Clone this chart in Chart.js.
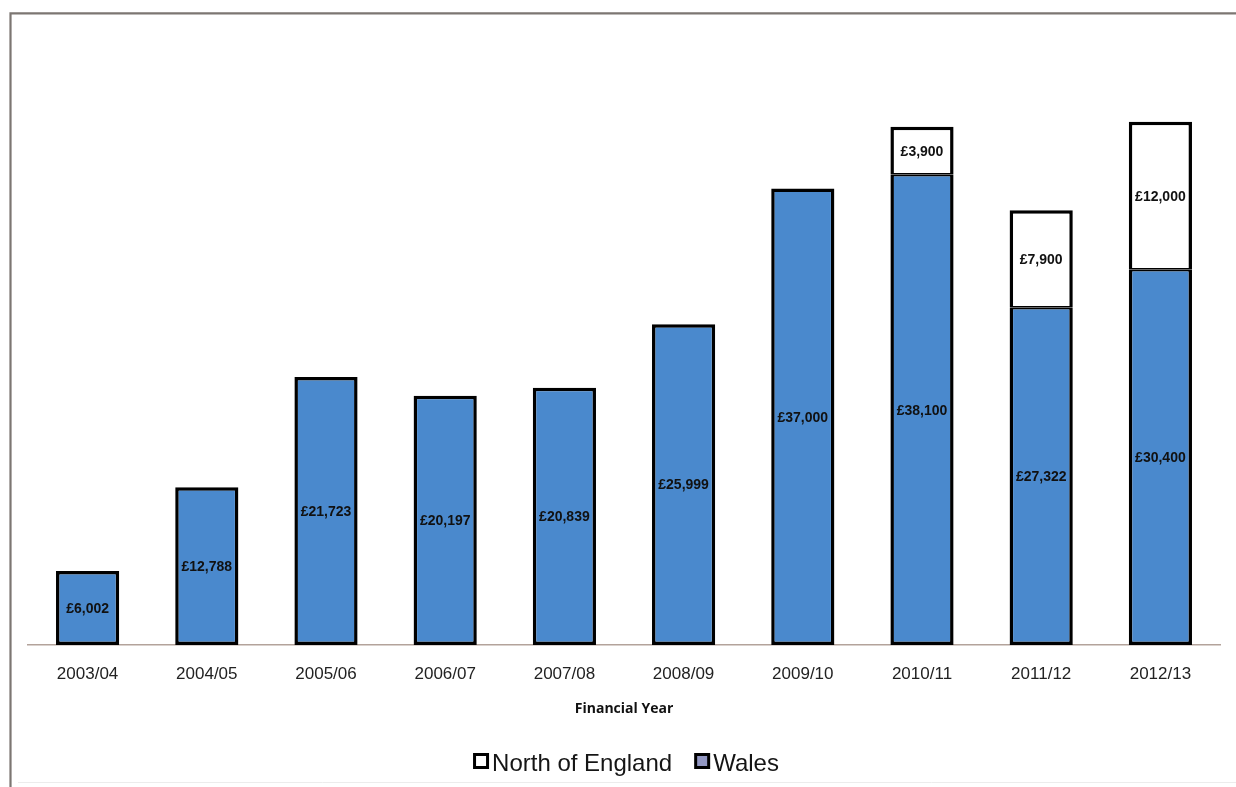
<!DOCTYPE html>
<html>
<head>
<meta charset="utf-8">
<script src="https://cdn.jsdelivr.net/npm/chart.js@4/dist/chart.umd.min.js"></script>
<style>
  html, body { margin: 0; padding: 0; background: #ffffff; }
  #wrap { position: relative; width: 1236px; height: 787px; }
  canvas { display: block; }
</style>
</head>
<body>
<div id="wrap"><canvas id="c" width="1236" height="787"></canvas></div>
<script>
const categories = ["2003/04","2004/05","2005/06","2006/07","2007/08","2008/09","2009/10","2010/11","2011/12","2012/13"];
const walesValues = [6002, 12788, 21723, 20197, 20839, 25999, 37000, 38100, 27322, 30400];
const northValues = [null, null, null, null, null, null, null, 3900, 7900, 12000];
const seriesNames = ["Wales", "North of England"];
const axisTitle = "Financial Year";

const FONT = "'Liberation Sans', Arial, sans-serif";
const BLUE = "#4a89cd";
const BW = 3.5;

function fmt(v) { return "£" + v.toLocaleString("en-GB"); }

const frame = {
  id: "frame",
  beforeDraw(chart) {
    const ctx = chart.ctx;
    ctx.save();
    ctx.fillStyle = "#ffffff";
    ctx.fillRect(0, 0, chart.width, chart.height);
    ctx.strokeStyle = "#7c7672";
    ctx.lineWidth = 2.2;
    ctx.beginPath();
    ctx.moveTo(10.5, chart.height);
    ctx.lineTo(10.5, 13.3);
    ctx.lineTo(chart.width, 13.3);
    ctx.stroke();
    ctx.strokeStyle = "#ececec";
    ctx.lineWidth = 1;
    ctx.beginPath();
    ctx.moveTo(18, 782.5);
    ctx.lineTo(chart.width, 782.5);
    ctx.stroke();
    ctx.restore();
  }
};

const barLabels = {
  id: "barLabels",
  afterDatasetsDraw(chart) {
    const ctx = chart.ctx;
    ctx.save();
    ctx.font = "bold 14px " + FONT;
    ctx.fillStyle = "#111111";
    ctx.textAlign = "center";
    ctx.textBaseline = "middle";
    chart.data.datasets.forEach((ds, di) => {
      const meta = chart.getDatasetMeta(di);
      meta.data.forEach((bar, i) => {
        const v = ds.data[i];
        if (v === null || v === undefined) return;
        const p = bar.getProps(["x", "y", "base"], true);
        ctx.fillText(fmt(v), p.x, (p.y + p.base) / 2 + 1);
      });
    });
    ctx.restore();
  }
};

const customLegend = {
  id: "customLegend",
  afterDraw(chart) {
    const ctx = chart.ctx;
    const items = chart.data.datasets.slice().reverse();
    const fontSize = 24;
    const box = 16, gap = 3, itemGap = 22;
    ctx.save();
    ctx.font = fontSize + "px " + FONT;
    const widths = items.map(ds => ctx.measureText(ds.label).width);
    const total = widths.reduce((a, w) => a + box + gap + w, 0) + itemGap * (items.length - 1);
    const cx = (chart.chartArea.left + chart.chartArea.right) / 2 + 2;
    let x = cx - total / 2;
    const boxTop = 753;
    items.forEach((ds, k) => {
      ctx.fillStyle = ds.legendFill;
      ctx.fillRect(x + 1.5, boxTop + 1.5, box - 3, box - 3);
      ctx.strokeStyle = "#000000";
      ctx.lineWidth = 3;
      ctx.strokeRect(x + 1.5, boxTop + 1.5, box - 3, box - 3);
      ctx.fillStyle = "#151515";
      ctx.textAlign = "left";
      ctx.textBaseline = "alphabetic";
      ctx.fillText(ds.label, x + box + gap, 771);
      x += box + gap + widths[k] + itemGap;
    });
    ctx.restore();
  }
};

function walesBorder(ctx) {
  const hasTop = northValues[ctx.dataIndex] !== null;
  return { top: hasTop ? BW / 2 : BW, bottom: BW, left: BW, right: BW };
}
function northBorder() {
  return { top: BW, bottom: BW / 2, left: BW, right: BW };
}

new Chart(document.getElementById("c"), {
  type: "bar",
  data: {
    labels: categories,
    datasets: [
      {
        label: seriesNames[0],
        data: walesValues,
        backgroundColor: BLUE,
        borderColor: "#000000",
        borderWidth: walesBorder,
        borderSkipped: false,
        legendFill: "#9297c2",
        barPercentage: 0.53,
        categoryPercentage: 1.0
      },
      {
        label: seriesNames[1],
        data: northValues,
        backgroundColor: "#ffffff",
        borderColor: "#000000",
        borderWidth: northBorder,
        borderSkipped: false,
        legendFill: "#ffffff",
        barPercentage: 0.53,
        categoryPercentage: 1.0
      }
    ]
  },
  options: {
    responsive: false,
    animation: false,
    devicePixelRatio: 1,
    layout: { padding: { left: 28, right: 16, top: 28, bottom: 67 } },
    plugins: {
      legend: { display: false },
      tooltip: { enabled: false },
      title: { display: false }
    },
    scales: {
      x: {
        stacked: true,
        grid: { display: false, drawTicks: false },
        border: { display: true, color: "#b3a39b", width: 1.5 },
        ticks: { color: "#222222", font: { family: FONT, size: 17 }, padding: 19 },
        title: {
          display: true,
          text: axisTitle,
          color: "#111111",
          font: { family: "'Open Sans', Lato, sans-serif", size: 14, weight: "bold" },
          padding: { top: 0, bottom: 3 }
        },
        afterFit(scale) { scale.height = 75; }
      },
      y: {
        stacked: true,
        display: false,
        min: 0,
        max: 50000
      }
    }
  },
  plugins: [frame, barLabels, customLegend]
});
</script>
</body>
</html>
